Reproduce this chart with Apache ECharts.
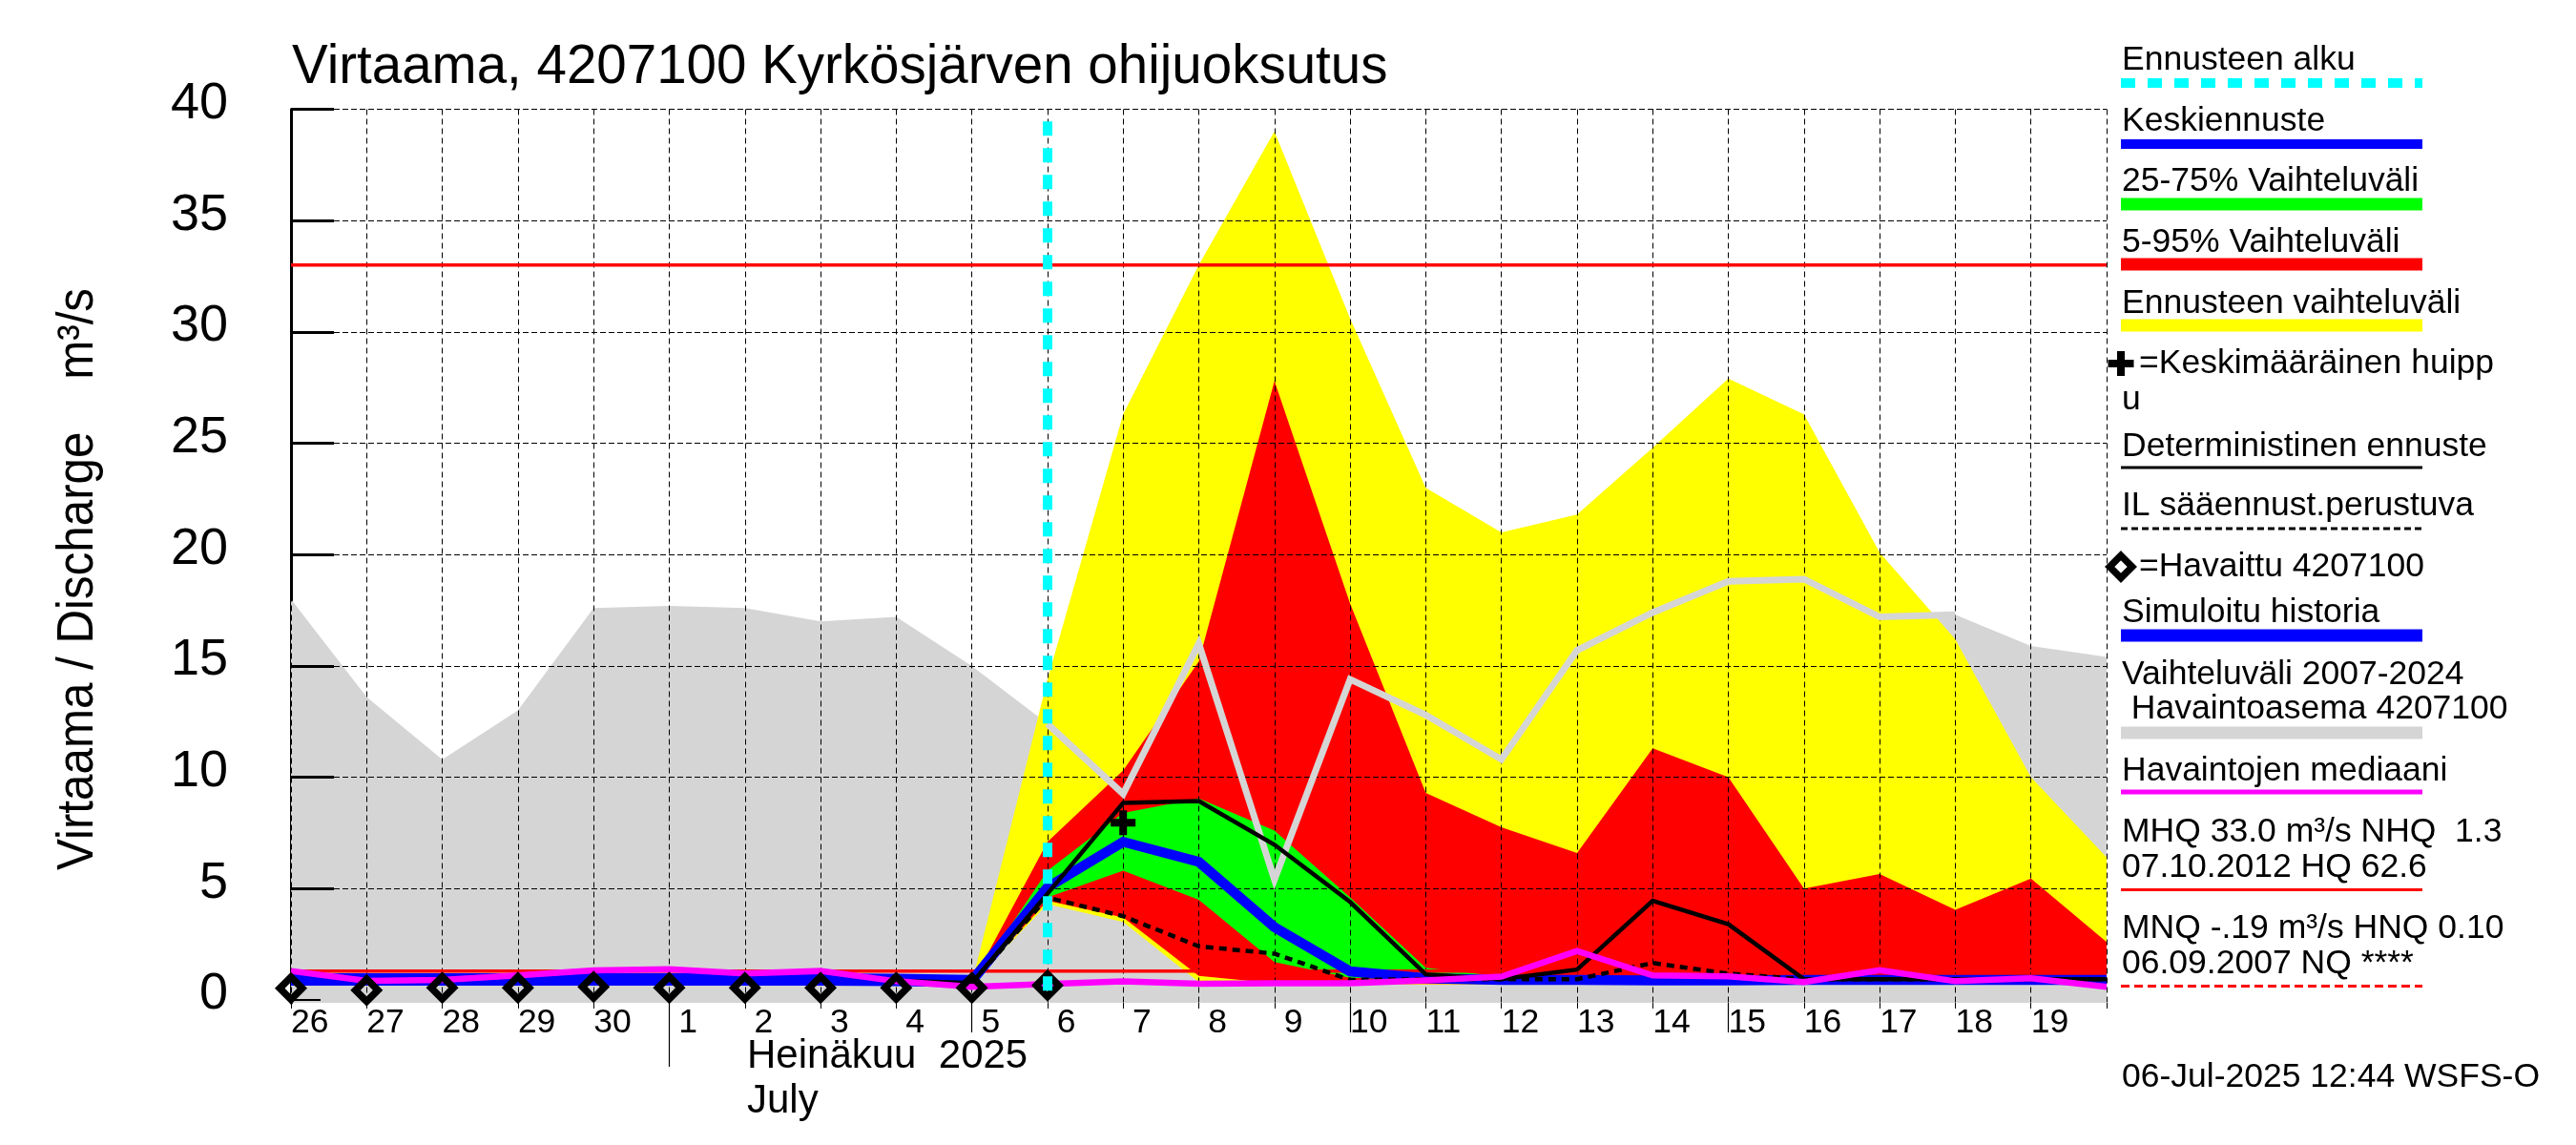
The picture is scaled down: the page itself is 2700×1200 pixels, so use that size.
<!DOCTYPE html>
<html>
<head>
<meta charset="utf-8">
<title>Virtaama 4207100</title>
<script src="https://cdn.jsdelivr.net/npm/echarts@6/dist/echarts.min.js"></script>
<style>
  html, body { margin: 0; padding: 0; background: #fff; }
  #chart { width: 2700px; height: 1200px; }
</style>
</head>
<body>
<div id="chart"></div>
<script>
// paivat 26.6. - 20.7.2025
const dayLabels = ['26', '27', '28', '29', '30', '1', '2', '3', '4', '5', '6', '7', '8', '9', '10', '11', '12', '13', '14', '15', '16', '17', '18', '19', ''];
const yLabels = [0, 5, 10, 15, 20, 25, 30, 35, 40];
const yGridTicks = [5, 10, 15, 20, 25, 30, 35, 40]; // nollalla ei katkoviivaa

// vaihteluvali 2007-2024, ylareuna
const rangeTop = [18.0, 13.6, 10.8, 13.0, 17.6, 17.7, 17.6, 17.0, 17.2, 15.0, 12.4, 9.25, 16.0, 5.4, 14.4, 12.8, 10.8, 15.7, 17.4, 18.8, 18.9, 17.2, 17.3, 15.9, 15.4];
// ylaviiva ennusteen paalla
const rangeLine = [null, null, null, null, null, null, null, null, null, null, 12.4, 9.25, 16.0, 5.4, 14.4, 12.8, 10.8, 15.7, 17.4, 18.8, 18.9, 17.2, 17.3, null, null];

const pad = [null, null, null, null, null, null, null, null, null];
const yellowTop = pad.concat([0.75, 14.4, 26.3, 33.0, 39.0, 30.6, 23.0, 21.0, 21.8, 24.8, 27.9, 26.3, 20.1, 16.2, 10.0, 6.4]);
const yellowBottom = pad.concat([0.75, 4.3, 3.5, 0.8, 0.72, 0.7, 0.7, 0.7, 0.7, 0.7, 0.7, 0.7, 0.7, 0.7, 0.7, 0.7]);
const redTop = pad.concat([0.75, 7.1, 10.3, 15.2, 27.8, 17.8, 9.3, 7.75, 6.6, 11.3, 10.0, 5.0, 5.65, 4.05, 5.45, 2.6]);
const redBottom = pad.concat([0.75, 4.45, 3.7, 1.08, 0.75, 0.72, 0.72, 0.72, 0.72, 0.72, 0.72, 0.72, 0.72, 0.72, 0.72, 0.72]);
const greenTop = pad.concat([0.75, 5.8, 8.4, 9.05, 7.6, 4.6, 1.45, 1.05, 0.8, 0.8, 0.8, 0.8, 0.8, 0.8, 0.8, 0.8]);
const greenBottom = pad.concat([0.75, 4.6, 5.8, 4.5, 1.7, 1.0, 0.9, 0.8, 0.8, 0.8, 0.8, 0.8, 0.8, 0.8, 0.8, 0.8]);

const simHistory = [0.92, 0.92, 0.92, 0.92, 0.92, 0.92, 0.92, 0.92, 0.9, 0.85];
const meanForecast = pad.concat([0.85, 5.05, 7.1, 6.2, 3.27, 1.28, 0.97, 0.9, 0.9, 0.88, 0.88, 0.9, 0.9, 0.9, 0.9, 0.9]);
const deterministic = [null, null, null, null, null, null, null, null, 0.87, 0.76, 4.77, 8.85, 8.93, 6.97, 4.4, 1.15, 0.93, 1.36, 4.45, 3.4, 0.93, 0.93, 0.93, 0.93, 0.93];
const weatherBased = pad.concat([0.76, 4.6, 3.76, 2.41, 2.08, 0.9, 0.93, 0.93, 0.93, 1.66, 1.18, 0.93, 0.93, 0.93, 0.93, 0.93]);
const median = [1.3, 0.86, 0.9, 1.1, 1.33, 1.38, 1.19, 1.3, 0.84, 0.59, 0.72, 0.83, 0.73, 0.75, 0.75, 0.88, 1.05, 2.2, 1.1, 1.06, 0.8, 1.34, 0.84, 0.97, 0.59];
const observed = [0.52, 0.44, 0.55, 0.55, 0.59, 0.55, 0.55, 0.55, 0.55, 0.55, 0.65];
const meanPeak = [[11, 7.96]];

const MHQ = 33.0;
const NHQ = 1.3;
const forecastStart = 10; // 6. paiva
const forecastLineTop = 39.45;
const yMin = -0.13;
const yMax = 40;

const longTicks = [9, 14, 19]; // 5, 10, 15
const monthTicks = [5]; // heinakuun alku

const FONT = 'Liberation Sans, Arial, sans-serif';
const BLUE = '#0000ff', RED = '#ff0000', GREEN = '#00ff00', YELLOW = '#ffff00', GRAY = '#d5d5d5', MAGENTA = '#ff00ff', CYAN = '#00ffff';

const plusPath = 'path://M-4,-13H4V-4H13V4H4V13H-4V4H-13V-4H-4Z';
const diamondPath = 'path://M0,-17L17,0L0,17L-17,0ZM0,-6.5L-6.5,0L0,6.5L6.5,0Z';

//vaihteluvali: alareuna + erotus pinottuna
function band(name, lower, upper, color) {
  const base = {
    type: 'line', stack: name, stackStrategy: 'all', silent: true, showSymbol: false,
    lineStyle: { width: 0 }, z: 1
  };
  return [
    Object.assign({}, base, { name: name + ' ala', data: lower }),
    Object.assign({}, base, {
      name: name,
      data: upper.map((v, i) => v == null ? null : +(v - lower[i]).toFixed(3)),
      areaStyle: { color: color, opacity: 1 }
    })
  ];
}

function line(name, data, color, width, dash, z) {
  return {
    type: 'line', name: name, data: data, silent: true, showSymbol: false, z: z || 3,
    lineStyle: { color: color, width: width, type: dash || 'solid', join: 'miter', cap: 'butt' }
  };
}

function flat(v) {
  return dayLabels.map(() => v);
}

const series = [
  {
    type: 'line', name: 'Vaihteluväli', data: rangeTop, silent: true, showSymbol: false, z: 1,
    lineStyle: { width: 0 }, areaStyle: { color: GRAY, opacity: 1, origin: 'start' }
  },
  ...band('Ennusteen vaihteluväli', yellowBottom, yellowTop, YELLOW),
  ...band('5-95%', redBottom, redTop, RED),
  ...band('25-75%', greenBottom, greenTop, GREEN),
  line('MHQ', flat(MHQ), RED, 3.5),
  line('NHQ', flat(NHQ), RED, 3.5),
  {
    type: 'line', name: 'Ennusteen alku', data: [], silent: true, z: 3,
    markLine: {
      silent: true, symbol: 'none', animation: false, label: { show: false },
      lineStyle: { color: CYAN, width: 10, type: [15, 13] },
      data: [[{ xAxis: forecastStart, yAxis: forecastLineTop }, { xAxis: forecastStart, yAxis: yMin }]]
    }
  },
  line('Vaihteluvälin yläreuna', rangeLine, GRAY, 7),
  line('Simuloitu historia', simHistory, BLUE, 13),
  line('Keskiennuste', meanForecast, BLUE, 10.5),
  line('IL sääennust.perustuva', weatherBased, '#000', 4.5, [8, 6]),
  line('Deterministinen ennuste', deterministic, '#000', 4.5),
  line('Havaintojen mediaani', median, MAGENTA, 6.5),
  {
    type: 'line', name: 'Havaittu', data: observed, silent: true, z: 4,
    lineStyle: { width: 0 }, showSymbol: true, showAllSymbol: true, symbol: diamondPath, symbolSize: 34,
    itemStyle: { color: '#000', opacity: 1 }
  },
  {
    type: 'scatter', name: 'Keskimääräinen huippu', data: meanPeak, silent: true, z: 5,
    symbol: plusPath, symbolSize: 26, itemStyle: { color: '#000', opacity: 1 }
  }
];

//selite ja muut tekstit
const legendLabels = [
  ['Ennusteen alku', 73], ['Keskiennuste', 137], ['25-75% Vaihteluväli', 200], ['5-95% Vaihteluväli', 264],
  ['Ennusteen vaihteluväli', 328], ['u', 429], ['Deterministinen ennuste', 477.5], ['IL sääennust.perustuva', 540],
  ['Simuloitu historia', 652], ['Vaihteluväli 2007-2024', 717], [' Havaintoasema 4207100', 753],
  ['Havaintojen mediaani', 818], ['MHQ 33.0 m³/s NHQ  1.3', 882], ['07.10.2012 HQ 62.6', 919],
  ['MNQ -.19 m³/s HNQ 0.10', 983], ['06.09.2007 NQ ****', 1020], ['06-Jul-2025 12:44 WSFS-O', 1139]
];
const legendLines = [
  [87, CYAN, 10, [15, 13]], [151, BLUE, 10], [214, GREEN, 13], [277, RED, 13], [341, YELLOW, 13],
  [490, '#000', 3], [554, '#000', 3, [7, 4]], [666, BLUE, 13], [768, GRAY, 13], [830, MAGENTA, 5],
  [932.5, RED, 3], [1033.5, RED, 3, [9, 5]]
];

function text(str, x, baseline, size) {
  return {
    type: 'text', z: 10, silent: true,
    style: { text: str, x: x, y: baseline - 0.27 * size, font: size + 'px ' + FONT, fill: '#000', align: 'left', verticalAlign: 'middle' }
  };
}

const graphics = [
  text('Virtaama, 4207100 Kyrkösjärven ohijuoksutus', 306, 87, 56.5),
  text('Heinäkuu  2025', 783, 1119, 42),
  text('July', 783, 1166, 42),
  {
    type: 'text', z: 10, silent: true, x: 82, y: 607, rotation: Math.PI / 2, scaleY: 1.08,
    style: { text: 'Virtaama / Discharge    m³/s', font: '49.3px ' + FONT, fill: '#000', align: 'center', verticalAlign: 'middle' }
  },
  text('=Keskimääräinen huipp', 2242, 391, 35.5),
  text('=Havaittu 4207100', 2242, 604, 35.5),
  { type: 'rect', z: 10, silent: true, shape: { x: 2219, y: 368, width: 8, height: 26 }, style: { fill: '#000' } },
  { type: 'rect', z: 10, silent: true, shape: { x: 2209.5, y: 377, width: 27, height: 8 }, style: { fill: '#000' } },
  {
    type: 'polygon', z: 10, silent: true,
    shape: { points: [[2223, 582.25], [2234.75, 594], [2223, 605.75], [2211.25, 594]] },
    style: { fill: 'none', stroke: '#000', lineWidth: 7.4, lineJoin: 'miter' }
  }
];
legendLabels.forEach(l => graphics.push(text(l[0], 2224, l[1], 35.5)));
legendLines.forEach(l => graphics.push({
  type: 'line', z: 10, silent: true,
  shape: { x1: 2223, y1: l[0], x2: 2539, y2: l[0] },
  style: { stroke: l[1], lineWidth: l[2], lineDash: l[3] || null }
}));

//lisaakselit pitkille vaaka-akselin viivoille
function tickAxis(indexes, length) {
  return {
    type: 'category', data: dayLabels, boundaryGap: false, position: 'bottom', gridIndex: 0,
    axisLine: { show: false, onZero: false },
    axisLabel: { show: false },
    splitLine: { show: false },
    axisTick: { show: true, length: length, interval: i => indexes.indexOf(i) >= 0, lineStyle: { color: '#000', width: 1.2 } }
  };
}

const chart = echarts.init(document.getElementById('chart'));
chart.setOption({
  backgroundColor: '#ffffff',
  animation: false,
  grid: { left: 305, right: 492, top: 114.5, bottom: 149, containLabel: false },
  xAxis: [
    {
      type: 'category', data: dayLabels, boundaryGap: false, position: 'bottom', z: 2,
      axisLine: { show: false, onZero: false },
      axisTick: { show: true, length: 6, interval: 0, lineStyle: { color: '#000', width: 1 } },
      axisLabel: {
        interval: 0, align: 'left', margin: 3, color: '#000', fontFamily: FONT, fontSize: 35.5,
        formatter: v => v.length === 1 ? ' ' + v : v
      },
      splitLine: { show: true, interval: 0, lineStyle: { color: '#000', width: 1, type: [6, 4] } }
    },
    tickAxis(longTicks, 31),
    tickAxis(monthTicks, 67)
  ],
  yAxis: [
    {
      type: 'value', min: yMin, max: yMax, position: 'left', z: 2,
      axisLine: { show: false, onZero: false },
      axisTick: { show: true, inside: true, length: 45, customValues: yGridTicks, lineStyle: { color: '#000', width: 3 } },
      axisLabel: {
        customValues: yLabels, margin: 66, color: '#000', fontFamily: FONT, fontSize: 54,
        verticalAlign: 'bottom', lineHeight: 11
      },
      splitLine: { show: true, lineStyle: { color: '#000', width: 1, type: [6, 3] } }
    },
    {
      type: 'value', min: yMin, max: yMax, position: 'left', z: 0,
      axisLine: { show: true, onZero: false, lineStyle: { color: '#000', width: 3 } },
      axisTick: { show: false }, axisLabel: { show: false }, splitLine: { show: false }
    },
    {
      //lyhyt viiva nollan kohdalla
      type: 'value', min: yMin, max: yMax, position: 'left', z: 2,
      axisLine: { show: false, onZero: false },
      axisTick: { show: true, inside: true, length: 31, customValues: [0], lineStyle: { color: '#000', width: 2 } },
      axisLabel: { show: false }, splitLine: { show: false }
    }
  ],
  series: series,
  graphic: graphics
});
</script>
</body>
</html>
